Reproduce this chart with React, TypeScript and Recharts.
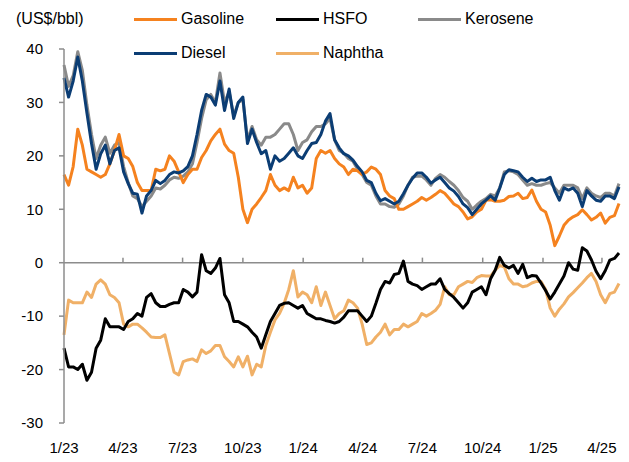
import React from 'react';
import { LineChart, Line, XAxis, YAxis, ReferenceLine } from 'recharts';

// Weekly observations, starting the first week of January 2023
const gasoline = [
  16.5, 14.5, 18, 25, 22, 17.5, 17, 16.5, 16, 16.5,
  18.5, 21, 24, 20, 19.5, 18, 15, 13.5, 13.5, 13.5,
  17.5, 17.2, 17.5, 20, 19, 17, 15, 16.5, 17.5, 17.5,
  19.7, 21, 22.8, 24, 25, 22.2, 21, 20.5, 16, 10,
  7.5, 10, 11, 12.2, 13.5, 16.5, 14.5, 13.5, 14, 13.5,
  16, 14, 14.5, 13, 14, 19.5, 21, 20.5, 21, 19.5,
  18.5, 17.9, 16.5, 17.5, 17.2, 16.5, 17, 17.9, 17.5, 16.5,
  13.5, 12.5, 12, 10, 10, 10.5, 11, 11.5, 12.2, 11.7,
  12.2, 12.8, 13.5, 13, 12, 11, 10.5, 9.5, 8.2, 8.6,
  9.5, 10, 11.7, 11.8, 11.5, 11.5, 11.7, 12.4, 12.5, 13,
  12, 12.2, 13.6, 11.5, 10, 9.5, 7, 3.2, 5, 7,
  8, 8.6, 9, 9.9, 9, 8, 8.5, 9.3, 7.4, 8.5,
  8.8, 11.1,
];

const hsfo = [
  -16, -19.5, -19.5, -20, -19, -22, -20.5, -16, -14.5, -10.5,
  -12, -12, -12, -12.5, -11, -10.5, -9.5, -10, -6.5, -5.8,
  -7.5, -8.2, -8.2, -7.8, -7.5, -7.5, -5, -5.5, -6.4, -5.5,
  1.5, -1.5, -2, -1, 0.8, -6, -7.5, -11, -11, -11.5,
  -12, -13, -13.9, -16, -13.5, -11, -9.5, -8, -7.6, -7.5,
  -8, -8.5, -8, -9.5, -10, -10.5, -10.5, -10.8, -11, -11.3,
  -11, -10.2, -9, -9, -9, -10, -11, -10, -7.6, -5,
  -3.5, -3.8, -2.2, -2, 0.3, -3.5, -4, -4.3, -5, -4.5,
  -4, -4, -3, -5, -5.8, -6.5, -7.5, -8.5, -7.5, -5.5,
  -5, -4.5, -6, -3, -1.4, 1, -0.5, -1, -0.5, -2,
  -0.3, -2.8, -2.4, -2.5, -3.8, -5.2, -6.8, -5.5, -4, -2.5,
  0, -1.2, -1.4, 2.8, 2.2, 0.5, -1.6, -3, -1.5, 0.5,
  0.8, 1.8,
];

const kerosene = [
  37, 33, 35, 39.5, 36, 29.5, 24, 19.5, 22, 23.5,
  20.5, 22, 22.5, 18, 15, 12.5, 12, 10.5, 11.5, 12.5,
  14, 13.8, 14.5, 15.5, 16, 15.8, 16.2, 17, 18.5, 22.5,
  27, 30.5, 31.5, 30, 35.5, 30, 32, 27.5, 30, 30.5,
  23, 25.5, 23, 22, 23.5, 23.5, 24, 25, 26, 26,
  24, 21, 22.5, 23, 24.5, 25.5, 25.5, 26, 27, 23,
  21, 20.5, 19.5, 19, 17.5, 16.5, 15, 14.5, 12.5, 11,
  11, 10.5, 10.4, 11, 12.5, 14.5, 16, 16.2, 16.2, 15.5,
  14.5, 15.8, 16.5, 16, 15.2, 14.5, 13.5, 12.2, 11.5, 10,
  10.8, 11.5, 12, 12.8, 12.5, 14, 17, 17.2, 17, 16.5,
  15.5, 14.5, 14.8, 14.5, 14.5, 14.8, 15, 14, 13, 14.5,
  14.5, 14.5, 14, 12, 14, 13, 12.5, 12.2, 13, 13,
  12.5, 14.8,
];

const diesel = [
  34.6, 31, 34, 38.5, 34, 28, 22.3, 17.5, 20.4, 22,
  18.5, 21, 21.5, 17, 14.8, 13, 12.8, 9.3, 12.5, 13.5,
  15.4, 14.8, 15.4, 16.5, 17, 16.8, 17.2, 18, 20, 24,
  28.5, 31.5, 31, 29.5, 34, 28.5, 32.5, 27, 30, 31,
  22.3, 25, 22.5, 20.4, 21, 17.5, 20, 19, 19.5, 20.5,
  21.5, 20, 19.5, 21, 22.3, 22.5, 24, 26.5, 27.9, 23,
  21.5, 20.4, 20, 19.2, 18, 17, 15.4, 15, 13, 11.6,
  12, 11.5, 11, 11.5, 12.9, 14.5, 15.8, 16.8, 16.8, 16,
  14.9, 15.5, 16, 15, 14, 13.4, 12.4, 11, 10.3, 9,
  10, 11, 11.7, 12.5, 11.7, 14, 16.5, 17.4, 17.2, 17,
  16, 15.2, 15.8, 15.2, 15.5, 15.5, 16, 13.5, 11.7, 14,
  13.6, 14, 13, 10.5, 13.5, 12.5, 11.7, 11.5, 12.5, 12.5,
  12, 14.2,
];

const naphtha = [
  -13.5, -7, -7.5, -7.5, -7.5, -5.5, -6.5, -4, -3.2, -4,
  -6, -6.5, -7.5, -11.5, -12, -11.5, -11.5, -12.2, -13, -13.9,
  -14, -14, -13.5, -17, -20.5, -21, -18.5, -18.2, -18, -18.5,
  -16.3, -17, -16.5, -15.5, -15.5, -17.6, -18.5, -19.5, -17.6, -19.5,
  -17.5, -21, -19, -19.5, -15.5, -13, -10.7, -9.5, -7.6, -5,
  -1.5, -6.4, -5.5, -6, -7.5, -4.5, -8, -5.5, -8, -10.5,
  -9.5, -9, -7, -7.5, -8.5, -11.5, -15.3, -15, -13.9, -13,
  -11.5, -13.5, -12.5, -12.5, -11.5, -12, -11.5, -11, -9.5, -10,
  -9.5, -8.9, -7.8, -4.5, -6, -6, -4.5, -4, -3.5, -3.7,
  -2.8, -2.4, -2.5, -2.5, -1.4, -0.5, -0.8, -3, -4, -4,
  -4.5, -4.3, -3.8, -3.5, -3.5, -5, -8.5, -10, -8.7, -7.7,
  -6.4, -5.6, -4.7, -3.8, -2.8, -2, -3.5, -6, -7.5, -5.8,
  -5.5, -3.9,
];

// Day offsets from 1 Jan 2023 for quarter starts
const quarterTicks = [0, 90, 181, 273, 365, 456, 547, 639, 731, 821];
const quarterLabels = ['1/23', '4/23', '7/23', '10/23', '1/24', '4/24', '7/24', '10/24', '1/25', '4/25'];
const yTicks = [-30, -20, -10, 0, 10, 20, 30, 40];
const unitLabel = '(US$/bbl)';

const series = [
  { key: 'kerosene', name: 'Kerosene', color: '#8A8A8A' },
  { key: 'gasoline', name: 'Gasoline', color: '#F5821F' },
  { key: 'diesel', name: 'Diesel', color: '#0B3D74' },
  { key: 'naphtha', name: 'Naphtha', color: '#F0B067' },
  { key: 'hsfo', name: 'HSFO', color: '#000000' },
];

const legendOrder = [
  ['gasoline', 'hsfo', 'kerosene'],
  ['diesel', 'naphtha'],
];

const data = gasoline.map((g, i) => ({
  day: i * 7,
  gasoline: g,
  hsfo: hsfo[i],
  kerosene: kerosene[i],
  diesel: diesel[i],
  naphtha: naphtha[i],
}));

const axisColor = '#8C8C8C';
const font = "'Liberation Sans', Arial, sans-serif";

export default function App() {
  return (
    <div style={{ position: 'relative', width: 613, height: 452, fontFamily: font }}>
      <LineChart
        width={613}
        height={452}
        data={data}
        margin={{ top: 41, right: 2, bottom: 0, left: 0 }}
      >
        <XAxis
          type="number"
          dataKey="day"
          domain={[0, 847]}
          ticks={quarterTicks}
          interval={0}
          tickFormatter={(v: number) => quarterLabels[quarterTicks.indexOf(v)] ?? ''}
          axisLine={false}
          tickLine={false}
          tickSize={6}
          tickMargin={13}
          height={37}
          tick={{ fill: '#000', fontSize: 15 }}
        />
        <YAxis
          domain={[-30, 40]}
          ticks={yTicks}
          interval={0}
          width={56}
          axisLine={{ stroke: axisColor, strokeWidth: 1.5 }}
          tickLine={{ stroke: axisColor, strokeWidth: 1.5 }}
          tickSize={5}
          tickMargin={16}
          tick={{ fill: '#000', fontSize: 15 }}
        />
        <ReferenceLine
          segment={[{ x: 0, y: 0 }, { x: quarterTicks[quarterTicks.length - 1], y: 0 }]}
          stroke={axisColor}
          strokeWidth={1.5}
        />
        {quarterTicks.slice(1).map((t) => (
          <ReferenceLine
            key={t}
            segment={[{ x: t, y: 0 }, { x: t, y: 0.95 }]}
            stroke={axisColor}
            strokeWidth={1.5}
          />
        ))}
        {series.map((s) => (
          <Line
            key={s.key}
            type="linear"
            dataKey={s.key}
            name={s.name}
            stroke={s.color}
            strokeWidth={3}
            dot={false}
            activeDot={false}
            isAnimationActive={false}
            strokeLinejoin="round"
          />
        ))}
      </LineChart>
      <div
        style={{
          position: 'absolute',
          left: 8,
          top: 1,
          height: 20,
          display: 'flex',
          alignItems: 'center',
          fontSize: 16,
          color: '#000',
        }}
      >
        {unitLabel}
      </div>
      {legendOrder.map((row, r) =>
        row.map((key, c) => {
          const s = series.find((x) => x.key === key)!;
          return (
            <div
              key={key}
              style={{
                position: 'absolute',
                left: 126 + c * 142,
                top: 1 + r * 34,
                height: 20,
                display: 'flex',
                alignItems: 'center',
                fontSize: 16,
                color: '#000',
                whiteSpace: 'nowrap',
              }}
            >
              <span style={{ display: 'inline-block', width: 43, height: 3, background: s.color, marginRight: 4 }} />
              {s.name}
            </div>
          );
        })
      )}
    </div>
  );
}
